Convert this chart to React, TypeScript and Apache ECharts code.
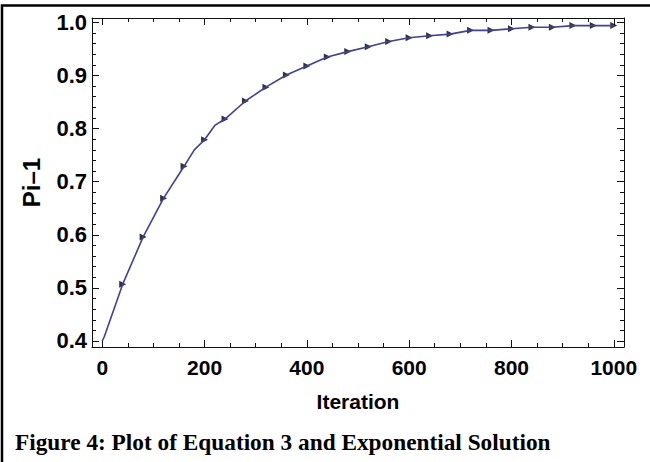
import React, { useEffect, useRef } from "react";
import * as echarts from "echarts";

// Tick labels
const xTickValues = [0, 200, 400, 600, 800, 1000];
const yTickValues = [0.4, 0.5, 0.6, 0.7, 0.8, 0.9, 1.0];

// Line (iteration of Equation 3)
const lineX = [0, 4, 40, 80, 120, 160, 180, 200, 220, 240, 280, 320, 360, 400, 440, 480, 520, 560, 600, 640, 680, 720, 760, 800, 840, 880, 920, 960, 1000];
const lineY = [0.400, 0.408, 0.507, 0.596, 0.669, 0.729, 0.760, 0.779, 0.806, 0.818, 0.852, 0.878, 0.901, 0.918, 0.935, 0.945, 0.954, 0.964, 0.971, 0.975, 0.978, 0.985, 0.985, 0.988, 0.991, 0.991, 0.994, 0.994, 0.994];

// Markers (exponential solution)
const markX = [40, 80, 120, 160, 200, 240, 280, 320, 360, 400, 440, 480, 520, 560, 600, 640, 680, 720, 760, 800, 840, 880, 920, 960, 1000];
const markY = [0.507, 0.596, 0.669, 0.729, 0.779, 0.818, 0.852, 0.878, 0.901, 0.918, 0.935, 0.945, 0.954, 0.964, 0.971, 0.975, 0.978, 0.985, 0.985, 0.988, 0.991, 0.991, 0.994, 0.994, 0.994];

const xMinorTicks: number[] = [];
for (let v = 0; v <= 1000; v += 50) if (v % 200 !== 0) xMinorTicks.push(v);
const yMinorTicks: number[] = [];
for (let i = 20; i <= 50; i++) if (i % 5 !== 0) yMinorTicks.push(i / 50);

const FONT = "Liberation Sans";
const AX = { color: "#111", width: 1 };

export default function App() {
  const ref = useRef<HTMLDivElement>(null);
  useEffect(() => {
    const chart = echarts.init(ref.current!, null, { renderer: "svg" });
    const labelStyle = { fontFamily: FONT, fontWeight: "bold" as const, fontSize: 21, color: "#000" };
    const xBase = { type: "value" as const, min: -20, max: 1020, gridIndex: 0, splitLine: { show: false } };
    const yBase = { type: "value" as const, min: 0.3887, max: 1.0083, gridIndex: 0, splitLine: { show: false } };
    const tickAxis = (base: any, position: string, values: number[], len: number, line: boolean) => ({
      ...base, position, offset: 0,
      axisLine: { show: line, onZero: false, lineStyle: AX },
      axisTick: { show: true, inside: true, length: len, customValues: values, lineStyle: AX },
      axisLabel: { show: false, customValues: values },
    });
    chart.setOption({
      animation: false,
      grid: { left: 92, top: 18, width: 532, height: 329, containLabel: false },
      xAxis: [
        {
          ...xBase, position: "bottom", offset: 0,
          axisLine: { show: true, onZero: false, lineStyle: AX },
          axisTick: { show: true, inside: true, length: 7, customValues: xTickValues, lineStyle: AX },
          axisLabel: { show: true, customValues: xTickValues, margin: 10, formatter: (v: number) => String(v), ...labelStyle },
          name: "Iteration", nameLocation: "middle", nameGap: 44,
          nameTextStyle: labelStyle,
        },
        tickAxis(xBase, "bottom", xMinorTicks, 4, false),
        tickAxis(xBase, "top", xTickValues, 7, true),
        tickAxis(xBase, "top", xMinorTicks, 4, false),
      ],
      yAxis: [
        {
          ...yBase, position: "left", offset: 0,
          axisLine: { show: true, onZero: false, lineStyle: AX },
          axisTick: { show: true, inside: true, length: 7, customValues: yTickValues, lineStyle: AX },
          axisLabel: { show: true, customValues: yTickValues, margin: 5, formatter: (v: number) => v.toFixed(1), ...labelStyle, fontSize: 22 },
          name: "Pi\u20131", nameLocation: "middle", nameGap: 49, nameRotate: 90,
          nameTextStyle: { ...labelStyle, fontSize: 24 },
        },
        tickAxis(yBase, "left", yMinorTicks, 4, false),
        tickAxis(yBase, "right", yTickValues, 7, true),
        tickAxis(yBase, "right", yMinorTicks, 4, false),
      ],
      series: [
        {
          type: "line",
          xAxisIndex: 0, yAxisIndex: 0,
          data: lineX.map((x, i) => [x, lineY[i]]),
          showSymbol: false, symbol: "none",
          lineStyle: { color: "#3f3fa3", width: 1.6 },
          silent: true,
        },
        {
          type: "scatter",
          xAxisIndex: 0, yAxisIndex: 0,
          data: markX.map((x, i) => [x, markY[i]]),
          symbol: "triangle", symbolRotate: -90, symbolSize: 7,
          itemStyle: { color: "#000" },
          silent: true,
        },
      ],
      graphic: [
        {
          type: "rect", silent: true,
          shape: { x: 2, y: 5.5, width: 700, height: 500 },
          style: { fill: "none", stroke: "#000", lineWidth: 2.5 },
        },
        {
          type: "text", silent: true, left: 15, top: 430,
          style: { text: "Figure 4: Plot of Equation 3 and Exponential Solution", font: 'bold 23.3px "Liberation Serif"', fill: "#000" },
        },
      ],
    });
    return () => chart.dispose();
  }, []);
  return <div ref={ref} style={{ position: "fixed", left: 0, top: 0, width: 650, height: 462, background: "#fff" }} />;
}
